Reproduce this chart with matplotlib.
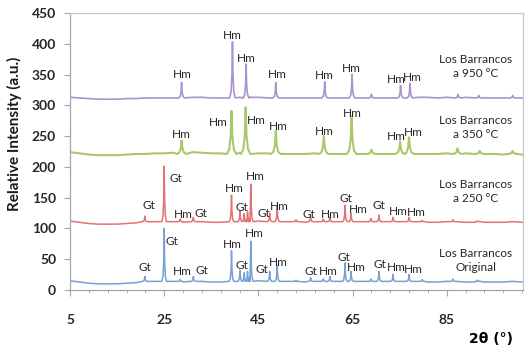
import numpy as np
import matplotlib
matplotlib.use("Agg")
import matplotlib.pyplot as plt
from matplotlib.ticker import FixedLocator

# 2-theta positions where the baselines were read (every 2 degrees)
base_theta = list(range(5, 102, 2))

# baseline readings for each pattern
blue_base = [15, 13, 11, 10, 10, 10, 11, 12, 13, 14, 15, 14, 13, 14, 14, 13, 13,
             14, 15, 16, 15, 15, 15, 14, 14, 13, 14, 15, 14, 14, 15, 14, 14, 14,
             14, 14, 14, 14, 13, 13, 14, 14, 13, 13, 13, 13, 13, 14, 13]
red_base = [112, 110, 108, 107, 107, 107, 108, 109, 110, 111, 112, 111, 110, 111,
            111, 110, 110, 111, 112, 113, 112, 112, 112, 111, 111, 110, 111, 112,
            111, 111, 112, 111, 111, 111, 111, 111, 111, 111, 110, 110, 111, 111,
            110, 110, 110, 110, 110, 111, 110]
green_base = [224, 222, 220, 219, 219, 219, 220, 221, 221, 222, 222, 223, 223, 224,
              223, 222, 222, 223, 223, 223, 222, 222, 221, 221, 221, 221, 222, 222,
              221, 221, 222, 221, 221, 221, 221, 221, 221, 221, 221, 221, 222, 223,
              222, 221, 221, 221, 220, 221, 220]
purple_base = [313, 312, 311, 310, 310, 310, 311, 311, 312, 312, 312, 312, 312, 313,
               313, 312, 312, 313, 313, 313, 313, 312, 312, 312, 312, 312, 312, 313,
               312, 312, 313, 312, 312, 312, 312, 312, 312, 313, 313, 312, 313, 314,
               313, 312, 312, 312, 312, 313, 312]

# peak positions and peak tops
blue_pos = [20.9, 25.0, 28.4, 31.2, 39.3, 41.1, 42.0, 42.7, 43.4, 47.4, 49.0, 53.0,
            56.1, 58.8, 60.2, 63.4, 64.7, 68.9, 70.6, 73.6, 77.0, 79.8, 86.3, 91.6]
blue_top = [22, 100, 17, 22, 64, 32, 28, 30, 79, 30, 40, 16,
            20, 18, 22, 44, 30, 18, 30, 25, 25, 17, 18, 16]
red_pos = blue_pos
red_top = [120, 201, 115, 118, 154, 128, 124, 127, 172, 125, 136, 114,
           118, 115, 118, 138, 124, 116, 122, 118, 118, 113, 114, 112]
green_pos = [28.7, 39.3, 42.3, 48.7, 58.9, 64.8, 69.0, 75.1, 77.0, 87.3, 92.0, 99.0]
green_top = [243, 291, 297, 259, 250, 282, 228, 241, 248, 230, 226, 226]
purple_pos = [28.7, 39.5, 42.4, 48.7, 59.1, 64.9, 69.0, 75.2, 77.2, 87.4, 91.8, 99.0]
purple_top = [337, 403, 367, 337, 338, 350, 318, 332, 336, 318, 316, 316]

# phase labels (x, y, text)
blue_lbl_x = [20.9, 26.7, 28.9, 33.0, 39.5, 41.4, 44.1, 45.7, 49.2, 56.1, 59.8, 63.2, 65.9, 70.7, 74.3, 78.0]
blue_lbl_y = [36, 78, 30, 31, 74, 39, 91, 34, 45, 30, 30, 52, 37, 42, 37, 34]
blue_lbl = ["Gt", "Gt", "Hm", "Gt", "Hm", "Gt", "Hm", "Gt", "Hm", "Gt", "Hm", "Gt", "Hm", "Gt", "Hm", "Hm"]
red_lbl_x = [21.8, 27.4, 29.1, 32.8, 39.8, 41.4, 44.4, 46.1, 49.4, 55.7, 60.2, 63.5, 66.2, 70.5, 74.7, 78.5]
red_lbl_y = [137, 181, 123, 124, 165, 134, 184, 124, 136, 123, 123, 149, 131, 138, 128, 126]
red_lbl = ["Gt", "Gt", "Hm", "Gt", "Hm", "Gt", "Hm", "Gt", "Hm", "Gt", "Hm", "Gt", "Hm", "Gt", "Hm", "Hm"]
green_lbl_x = [28.7, 36.4, 44.6, 49.2, 59.1, 65.0, 74.3, 78.0]
green_lbl_y = [253, 272, 276, 266, 258, 287, 250, 256]
purple_lbl_x = [28.8, 39.4, 42.4, 49.0, 59.1, 64.7, 74.2, 77.8]
purple_lbl_y = [350, 414, 376, 350, 348, 360, 342, 345]

sample_names = ["Los Barrancos\nOriginal", "Los Barrancos\na 250 °C",
                "Los Barrancos\na 350 °C", "Los Barrancos\na 950 °C"]
sample_y = [48, 160, 264, 363]

x_major = [5, 25, 45, 65, 85]


def pattern(base_vals, pos, top, w):
    # baseline points away from the peaks, plus a narrow profile for every peak
    b = float(np.median(base_vals))
    pts = [(t, v) for t, v in zip(base_theta, base_vals)
           if all(abs(t - p) > w for p in pos)]
    for p, h in zip(pos, top):
        d = h - b
        pts += [(p - w, b), (p - 0.5 * w, b + 0.1 * d), (p - 0.18 * w, b + 0.4 * d),
                (p, h), (p + 0.18 * w, b + 0.4 * d), (p + 0.5 * w, b + 0.1 * d), (p + w, b)]
    pts.sort()
    return [q[0] for q in pts], [q[1] for q in pts]


fig = plt.figure(figsize=(5.27, 3.53), dpi=100)
ax = fig.add_axes([70 / 527, 1 - 290 / 353, 453 / 527, 277 / 353])

series = [
    (blue_base, blue_pos, blue_top, 0.5, "#76a0d6", 1.1),
    (red_base, red_pos, red_top, 0.5, "#e27274", 1.1),
    (green_base, green_pos, green_top, 1.0, "#a8c96a", 1.5),
    (purple_base, purple_pos, purple_top, 0.6, "#a993cf", 1.2),
]
for base_vals, pos, top, w, col, lw in series:
    x, y = pattern(base_vals, pos, top, w)
    ax.plot(x, y, color=col, lw=lw)

lbl_font = dict(fontsize=8.5, color="#262626", ha="center", va="center", family="Lato")
for xs, ys, ts in [(blue_lbl_x, blue_lbl_y, blue_lbl), (red_lbl_x, red_lbl_y, red_lbl),
                   (green_lbl_x, green_lbl_y, ["Hm"] * 8), (purple_lbl_x, purple_lbl_y, ["Hm"] * 8)]:
    for lx, ly, t in zip(xs, ys, ts):
        ax.text(lx, ly, t, **lbl_font)

for name, sy in zip(sample_names, sample_y):
    ax.text(91.2, sy, name, linespacing=1.4, **lbl_font)

ax.set_xlim(5, 101.2)
ax.set_ylim(0, 450)
ax.xaxis.set_major_locator(FixedLocator(x_major))
ax.xaxis.set_minor_locator(FixedLocator(list(range(5, 102, 4))))
ax.set_yticks(list(range(0, 451, 50)))

for s in ax.spines.values():
    s.set_color("#c8c8c8")
    s.set_linewidth(0.9)
ax.spines["bottom"].set_color("#a6a6a6")
ax.spines["left"].set_color("#a6a6a6")

ax.tick_params(axis="x", which="major", length=4, color="#a6a6a6", pad=13,
               labelsize=10, labelcolor="#262626")
ax.tick_params(axis="x", which="minor", length=2.5, color="#a6a6a6")
ax.tick_params(axis="y", length=4, color="#a6a6a6", pad=6,
               labelsize=10, labelcolor="#262626")
for lab in ax.get_xticklabels() + ax.get_yticklabels():
    lab.set_fontweight("bold")
    lab.set_family("Lato")

fig.text(14 / 527, 1 - 134 / 353, "Relative Intensity (a.u.)", rotation=90,
         ha="center", va="center", fontsize=11, fontweight="bold", family="Lato",
         color="#1a1a1a")
fig.text(491 / 527, 1 - 339 / 353, "2θ (°)", ha="center", va="center",
         fontsize=10, fontweight="bold", family="DejaVu Sans", color="black")

fig.savefig("out.png", dpi=100)
